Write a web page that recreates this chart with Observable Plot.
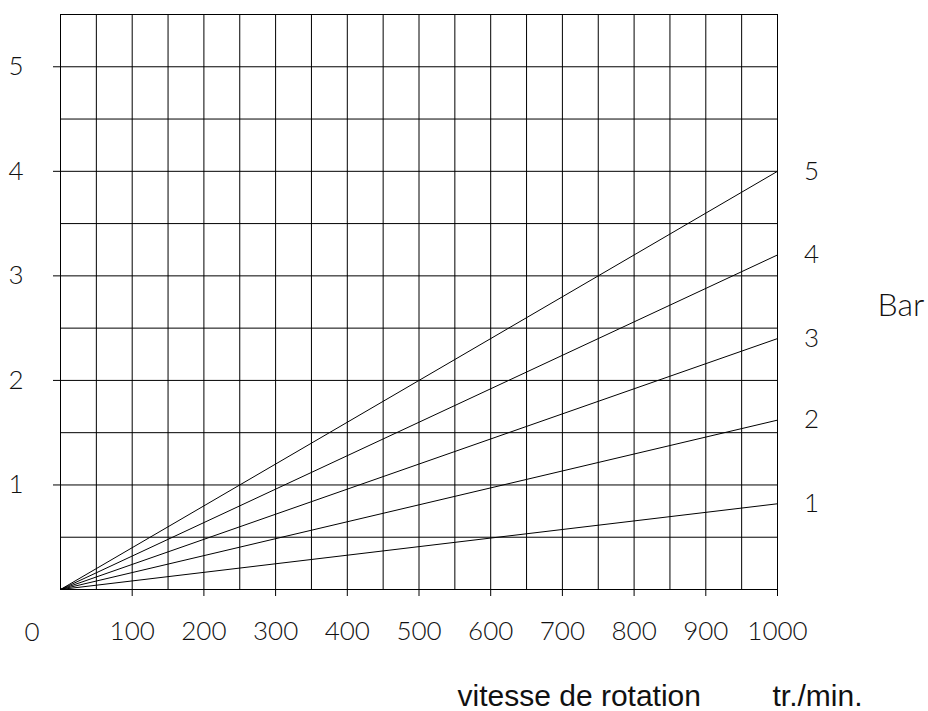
<!DOCTYPE html>
<html>
<head>
<meta charset="utf-8">
<script src="https://cdn.jsdelivr.net/npm/d3@7"></script>
<script src="https://cdn.jsdelivr.net/npm/@observablehq/plot@0.6"></script>
<style>
  html, body { margin: 0; padding: 0; background: #fff; }
</style>
</head>
<body>
<div id="chart"></div>
<script>
// ---- data ----
const rpm = [0, 1000];                 // tr./min. (x)
const barLevels = [1, 2, 3, 4, 5];     // pressure curves (Bar)
const valuesBar1 = [0, 0.82];
const valuesBar2 = [0, 1.62];
const valuesBar3 = [0, 2.40];
const valuesBar4 = [0, 3.20];
const valuesBar5 = [0, 4.00];
const seriesValues = [valuesBar1, valuesBar2, valuesBar3, valuesBar4, valuesBar5];

const xGridValues = [0, 50, 100, 150, 200, 250, 300, 350, 400, 450, 500, 550, 600, 650, 700, 750, 800, 850, 900, 950, 1000];
const yGridValues = [0, 0.5, 1, 1.5, 2, 2.5, 3, 3.5, 4, 4.5, 5, 5.5];
const xTickLabels = [100, 200, 300, 400, 500, 600, 700, 800, 900, 1000];
const yTickLabels = [1, 2, 3, 4, 5];
const originLabel = "0";
const xTitle = "vitesse de rotation";
const xUnit = "tr./min.";
const rightTitle = "Bar";

// ---- build tables ----
const lineData = barLevels.flatMap((b, i) =>
  rpm.map((r, j) => ({ bar: b, rpm: r, value: seriesValues[i][j] })));
const endData = barLevels.map((b, i) =>
  ({ bar: b, rpm: rpm[rpm.length - 1], value: seriesValues[i][seriesValues[i].length - 1] }));

const digitFont = "Lato, 'DejaVu Sans Condensed', sans-serif";
const titleFont = "'Liberation Sans', Arial, sans-serif";
const ink = "#000";
const textInk = "#111";
const digitSize = 26;
const digitWeight = 300;

const chart = Plot.plot({
  width: 928,
  height: 711,
  marginLeft: 60,
  marginRight: 151,
  marginTop: 14,
  marginBottom: 122,
  style: { background: "#fff", fontFamily: digitFont },
  x: { domain: [0, 1000], axis: null, label: null },
  y: { domain: [0, 5.5], axis: null, label: null },
  marks: [
    Plot.ruleX(xGridValues, { x: d => d, stroke: ink, strokeWidth: 1 }),
    Plot.ruleY(yGridValues, { y: d => d, stroke: ink, strokeWidth: 1 }),
    Plot.axisX({
      ticks: xTickLabels, tickSize: 7, tickPadding: 25, fontSize: digitSize, fontWeight: digitWeight,
      tickFormat: d => String(d), stroke: ink, fill: textInk, fontFamily: digitFont, label: null
    }),
    Plot.axisY({
      ticks: yTickLabels, tickSize: 7, tickPadding: 30, fontSize: digitSize, fontWeight: digitWeight,
      tickFormat: d => String(d), stroke: ink, fill: textInk, fontFamily: digitFont, label: null
    }),
    Plot.text([originLabel], {
      x: () => 0, y: () => 0, text: d => d, dx: -28.5, dy: 43,
      fontSize: digitSize, fontWeight: digitWeight, fill: textInk, fontFamily: digitFont,
      textAnchor: "middle", lineAnchor: "middle"
    }),
    Plot.line(lineData, { x: "rpm", y: "value", z: "bar", stroke: ink, strokeWidth: 1 }),
    Plot.text(endData, {
      x: "rpm", y: "value", text: d => String(d.bar), dx: 34,
      fontSize: digitSize, fontWeight: digitWeight, fill: textInk, fontFamily: digitFont,
      textAnchor: "middle", lineAnchor: "middle"
    }),
    Plot.text([rightTitle], {
      frameAnchor: "right", text: d => d, dx: 100, dy: 4,
      fontSize: 32, fontWeight: digitWeight, fill: textInk, fontFamily: digitFont,
      textAnchor: "start", lineAnchor: "middle"
    }),
    Plot.text([xTitle], {
      frameAnchor: "bottom-left", text: d => d, dx: 397, dy: 107,
      fontSize: 30, fill: "#111", fontFamily: titleFont, textAnchor: "start", lineAnchor: "middle"
    }),
    Plot.text([xUnit], {
      frameAnchor: "bottom-left", text: d => d, dx: 712, dy: 107,
      fontSize: 30, fill: "#111", fontFamily: titleFont, textAnchor: "start", lineAnchor: "middle"
    })
  ]
});
document.getElementById("chart").appendChild(chart);
</script>
</body>
</html>
